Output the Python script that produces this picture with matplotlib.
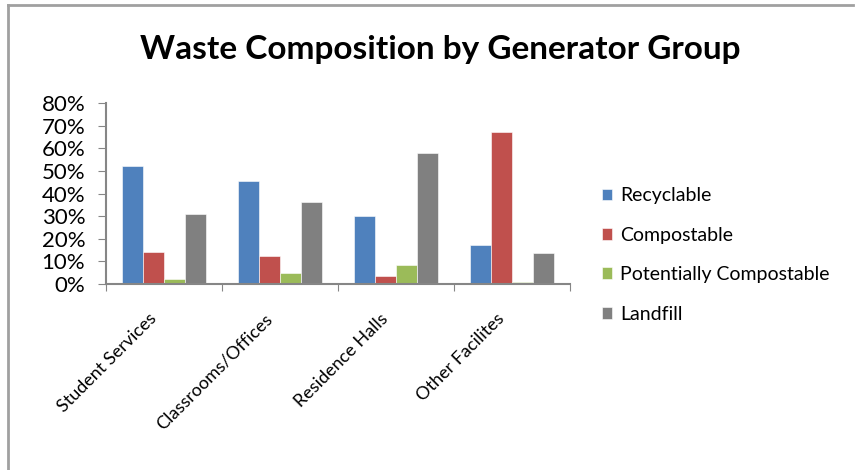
import numpy as np
import matplotlib
matplotlib.use("Agg")
import matplotlib.pyplot as plt
import matplotlib.transforms as mtransforms
from matplotlib.lines import Line2D

plt.rcParams['font.family'] = ['Lato', 'DejaVu Sans']

# data (percent)
groups = ['Student Services', 'Classrooms/Offices', 'Residence Halls', 'Other Facilites']
series = ['Recyclable', 'Compostable', 'Potentially Compostable', 'Landfill']
recyclable = [52.0, 45.6, 29.9, 17.3]
compostable = [14.1, 12.4, 3.4, 67.2]
pot_compostable = [2.4, 5.0, 8.4, 0.9]
landfill = [31.0, 36.4, 57.8, 13.9]
colors = ['#4F81BD', '#C0504D', '#9BBB59', '#808080']
yticks = [0, 10, 20, 30, 40, 50, 60, 70, 80]

fig = plt.figure(figsize=(8.63, 4.70), dpi=100)
ax = fig.add_axes([106/863, 1-284/470, 464/863, 181/470])

# chart frame (only top and left edges are visible)
fig.add_artist(Line2D([8/863, 8/863], [0, 1-5/470], transform=fig.transFigure,
                      color='#A0A0A0', linewidth=2))
fig.add_artist(Line2D([8/863, 853/863], [1-5/470, 1-5/470], transform=fig.transFigure,
                      color='#A0A0A0', linewidth=2))

x = np.arange(len(groups))
w = 0.18
for i, (vals, c, lab) in enumerate(zip([recyclable, compostable, pot_compostable, landfill], colors, series)):
    ax.bar(x + (i - 1.5) * w, vals, w, color=c, label=lab, edgecolor='white', linewidth=0.4)

ax.set_xlim(-0.5, 3.5)
ax.set_ylim(0, 80)
ax.set_yticks(yticks)
ax.set_yticklabels([f'{v}%' for v in yticks], fontsize=16)

ax.set_xticks(np.arange(-0.5, 4, 1))
ax.set_xticklabels([])
ax.set_xticks(x, minor=True)
ax.set_xticklabels(groups, minor=True, rotation=45, ha='right', rotation_mode='anchor', fontsize=13)
ax.tick_params(axis='x', which='minor', length=0, pad=12)
ax.tick_params(axis='x', which='major', length=5, color='#868686', direction='out')
ax.tick_params(axis='y', length=6, color='#868686', direction='out', pad=9)
shift = mtransforms.ScaledTranslation(-16/100, -10/100, fig.dpi_scale_trans)
for lbl in ax.get_xticklabels(minor=True):
    lbl.set_transform(lbl.get_transform() + shift)

for s in ['top', 'right']:
    ax.spines[s].set_visible(False)
for s in ['left', 'bottom']:
    ax.spines[s].set_color('#868686')
    ax.spines[s].set_linewidth(1.5)

fig.text(440/863, 1-50/470, 'Waste Composition by Generator Group', ha='center', va='center',
         fontsize=24, fontweight='bold')

ax.legend(loc='center left', bbox_to_anchor=(584/863, 1-255/470), bbox_transform=fig.transFigure,
          frameon=False, fontsize=14, handlelength=0.55, handleheight=0.55, handletextpad=0.4,
          labelspacing=1.15)

fig.savefig('out.png', dpi=100)
